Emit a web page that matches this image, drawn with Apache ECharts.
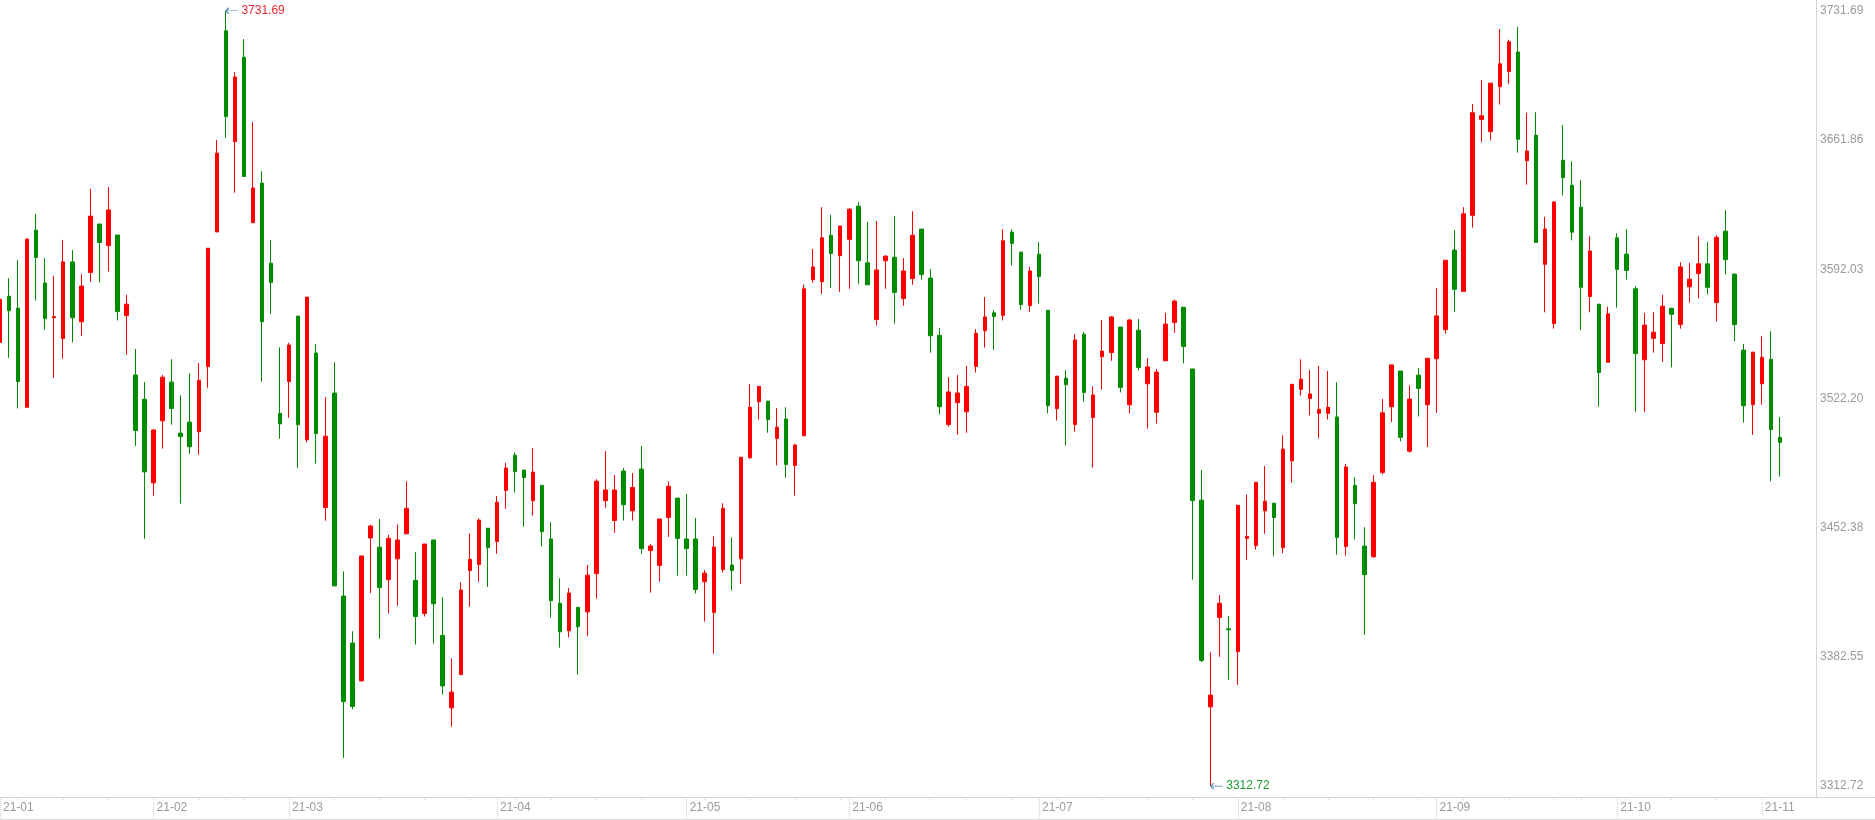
<!DOCTYPE html>
<html>
<head>
<meta charset="utf-8">
<title>K线</title>
<style>
html, body { margin: 0; padding: 0; background: #fff; }
#main { width: 1875px; height: 819px; border-bottom: 1px solid #dcdcdc; }
</style>
<script src="https://cdn.jsdelivr.net/npm/echarts@6/dist/echarts.min.js"></script>
</head>
<body>
<div id="main"></div>
<script>
var year = '2021';
var dates = [
  '01-07','01-08','01-11','01-12','01-13','01-14','01-15','01-18','01-19','01-20','01-21','01-22','01-25','01-26','01-27','01-28','01-29',
  '02-01','02-02','02-03','02-04','02-05','02-08','02-09','02-10','02-18','02-19','02-22','02-23','02-24','02-25','02-26',
  '03-01','03-02','03-03','03-04','03-05','03-08','03-09','03-10','03-11','03-12','03-15','03-16','03-17','03-18','03-19','03-22','03-23','03-24','03-25','03-26','03-29','03-30','03-31',
  '04-01','04-02','04-06','04-07','04-08','04-09','04-12','04-13','04-14','04-15','04-16','04-19','04-20','04-21','04-22','04-23','04-26','04-27','04-28','04-29','04-30',
  '05-06','05-07','05-10','05-11','05-12','05-13','05-14','05-17','05-18','05-19','05-20','05-21','05-24','05-25','05-26','05-27','05-28','05-31',
  '06-01','06-02','06-03','06-04','06-07','06-08','06-09','06-10','06-11','06-15','06-16','06-17','06-18','06-21','06-22','06-23','06-24','06-25','06-28','06-29','06-30',
  '07-01','07-02','07-05','07-06','07-07','07-08','07-09','07-12','07-13','07-14','07-15','07-16','07-19','07-20','07-21','07-22','07-23','07-26','07-27','07-28','07-29','07-30',
  '08-02','08-03','08-04','08-05','08-06','08-09','08-10','08-11','08-12','08-13','08-16','08-17','08-18','08-19','08-20','08-23','08-24','08-25','08-26','08-27','08-30','08-31',
  '09-01','09-02','09-03','09-06','09-07','09-08','09-09','09-10','09-13','09-14','09-15','09-16','09-17','09-22','09-23','09-24','09-27','09-28','09-29','09-30',
  '10-08','10-11','10-12','10-13','10-14','10-15','10-18','10-19','10-20','10-21','10-22','10-25','10-26','10-27','10-28','10-29',
  '11-01','11-02','11-03'
];
// empty slots after the last day
var emptySlots = 4;

var openData = [
  3552.44, 3577.42, 3571.00, 3517.47, 3613.11, 3584.56, 3565.80, 3554.58, 3595.98, 3563.63,
  3590.27, 3616.44, 3604.78, 3610.49, 3566.96, 3534.84, 3521.75, 3476.55, 3510.10, 3531.03,
  3503.44, 3509.38, 3504.15, 3539.36, 3612.16, 3720.88, 3660.93, 3706.60, 3617.15, 3638.56,
  3595.27, 3514.14, 3531.27, 3566.72, 3499.87, 3546.73, 3463.23, 3525.09, 3415.41, 3389.96,
  3369.50, 3446.82, 3441.82, 3424.22, 3435.51, 3449.02, 3423.92, 3405.99, 3445.71, 3394.13,
  3354.97, 3372.90, 3429.16, 3432.47, 3452.06, 3444.88, 3472.47, 3491.50, 3483.50, 3466.95,
  3475.22, 3446.26, 3411.51, 3396.62, 3409.30, 3406.82, 3427.51, 3466.95, 3456.19, 3482.95,
  3461.43, 3484.05, 3439.92, 3431.92, 3457.85, 3468.33, 3446.26, 3446.26, 3423.10, 3406.55,
  3429.71, 3432.20, 3435.51, 3490.12, 3520.46, 3520.74, 3500.60, 3511.08, 3485.98, 3501.98,
  3586.38, 3585.28, 3610.38, 3599.34, 3608.17, 3626.10, 3595.48, 3564.87, 3596.59, 3598.52,
  3576.18, 3586.93, 3613.69, 3587.21, 3556.32, 3508.05, 3519.91, 3514.94, 3539.49, 3558.80,
  3568.45, 3567.07, 3612.03, 3601.27, 3572.31, 3600.17, 3569.83, 3516.60, 3533.15, 3508.05,
  3556.87, 3511.91, 3544.73, 3546.94, 3560.73, 3518.80, 3559.07, 3530.11, 3514.67, 3542.53,
  3563.21, 3571.49, 3538.11, 3467.23, 3355.52, 3403.79, 3397.72, 3385.31, 3446.54, 3442.68,
  3461.43, 3465.57, 3441.57, 3488.46, 3527.08, 3522.11, 3514.12, 3514.12, 3512.18, 3442.13,
  3475.22, 3442.40, 3436.61, 3482.12, 3517.70, 3537.01, 3493.71, 3534.80, 3518.80, 3543.63,
  3559.35, 3602.38, 3580.04, 3621.13, 3672.99, 3666.37, 3690.64, 3698.92, 3709.40, 3650.65,
  3664.44, 3594.66, 3562.66, 3650.92, 3637.41, 3625.55, 3577.28, 3573.14, 3541.70, 3609.00,
  3600.17, 3581.42, 3543.08, 3554.66, 3551.90, 3570.93, 3562.11, 3582.52, 3589.69, 3594.93,
  3573.97, 3612.58, 3589.41, 3548.32, 3518.80, 3530.11, 3543.35, 3501.15
];
var closeData = [
  3575.76, 3569.57, 3531.27, 3608.35, 3598.36, 3565.29, 3566.40, 3595.98, 3565.77, 3582.89,
  3620.72, 3606.45, 3624.05, 3569.10, 3573.14, 3504.86, 3482.50, 3505.10, 3533.65, 3516.76,
  3501.53, 3496.06, 3531.98, 3603.35, 3654.74, 3674.49, 3695.90, 3642.13, 3635.95, 3563.63,
  3584.80, 3508.43, 3551.02, 3507.96, 3576.95, 3503.20, 3501.77, 3420.89, 3358.32, 3355.70,
  3437.06, 3453.24, 3419.93, 3446.58, 3445.71, 3462.81, 3404.34, 3443.51, 3411.24, 3366.83,
  3363.52, 3418.68, 3435.23, 3456.47, 3441.57, 3466.12, 3484.60, 3482.67, 3479.36, 3482.40,
  3450.13, 3412.89, 3396.06, 3417.03, 3398.82, 3426.68, 3477.43, 3472.74, 3472.74, 3464.74,
  3474.12, 3441.02, 3442.40, 3457.02, 3474.67, 3446.54, 3441.02, 3418.96, 3427.78, 3441.85,
  3462.81, 3429.16, 3490.40, 3517.43, 3528.73, 3510.81, 3506.67, 3486.53, 3497.01, 3581.42,
  3593.28, 3609.00, 3600.45, 3615.34, 3624.44, 3596.59, 3583.62, 3591.62, 3599.07, 3579.48,
  3591.07, 3610.38, 3589.14, 3556.04, 3517.70, 3525.70, 3525.15, 3528.73, 3557.42, 3566.25,
  3566.52, 3607.34, 3605.96, 3572.87, 3591.07, 3588.03, 3518.25, 3534.25, 3529.56, 3553.83,
  3525.42, 3524.05, 3547.77, 3566.25, 3528.18, 3564.59, 3538.94, 3539.22, 3536.46, 3562.38,
  3574.80, 3550.25, 3466.95, 3380.62, 3361.86, 3411.51, 3397.17, 3464.47, 3447.64, 3476.88,
  3466.67, 3457.85, 3494.81, 3529.84, 3532.60, 3524.60, 3516.32, 3517.43, 3447.09, 3485.15,
  3465.30, 3426.96, 3476.88, 3514.39, 3540.32, 3501.15, 3521.84, 3527.63, 3543.90, 3566.80,
  3596.86, 3581.14, 3621.96, 3676.57, 3674.92, 3692.57, 3703.05, 3714.91, 3662.23, 3655.89,
  3606.52, 3613.69, 3628.31, 3641.54, 3612.03, 3582.24, 3601.83, 3536.18, 3567.90, 3591.90,
  3591.35, 3546.39, 3561.83, 3557.97, 3572.04, 3567.62, 3593.28, 3586.66, 3594.93, 3582.24,
  3609.27, 3597.14, 3562.11, 3518.25, 3547.21, 3544.46, 3505.29, 3498.39
];
var lowData = [
  3526.27, 3544.12, 3516.76, 3517.00, 3575.04, 3559.34, 3533.41, 3543.64, 3552.44, 3556.01,
  3585.27, 3584.80, 3590.75, 3564.34, 3545.78, 3496.54, 3446.34, 3469.65, 3495.11, 3507.96,
  3465.37, 3492.26, 3491.78, 3527.94, 3612.16, 3663.07, 3633.33, 3642.13, 3617.15, 3531.27,
  3567.91, 3500.35, 3511.76, 3484.64, 3498.44, 3487.02, 3456.09, 3420.89, 3327.87, 3354.27,
  3369.50, 3417.08, 3392.34, 3405.90, 3410.13, 3449.02, 3389.17, 3404.34, 3389.72, 3362.14,
  3344.76, 3372.90, 3409.58, 3423.10, 3420.34, 3438.27, 3462.54, 3471.36, 3452.88, 3458.95,
  3442.13, 3403.79, 3387.51, 3393.03, 3372.90, 3393.86, 3413.99, 3463.09, 3449.57, 3456.19,
  3456.19, 3438.27, 3417.30, 3423.10, 3447.37, 3426.40, 3426.40, 3416.75, 3401.58, 3384.20,
  3428.06, 3418.41, 3421.99, 3489.57, 3510.81, 3503.64, 3485.98, 3479.36, 3469.71, 3501.98,
  3584.73, 3578.66, 3581.97, 3579.76, 3581.42, 3583.90, 3583.62, 3561.56, 3581.42, 3562.66,
  3572.31, 3583.62, 3586.38, 3546.94, 3513.56, 3506.94, 3502.53, 3503.64, 3536.18, 3549.70,
  3548.32, 3564.32, 3594.10, 3570.11, 3569.00, 3573.42, 3514.12, 3510.25, 3496.74, 3504.19,
  3520.46, 3484.88, 3527.08, 3542.53, 3525.42, 3514.12, 3537.28, 3505.84, 3508.60, 3542.53,
  3557.70, 3541.15, 3424.20, 3379.79, 3312.72, 3382.55, 3370.14, 3367.38, 3434.96, 3440.47,
  3449.02, 3436.89, 3438.54, 3476.60, 3523.77, 3513.01, 3500.60, 3510.81, 3437.71, 3437.16,
  3445.99, 3394.41, 3436.06, 3481.02, 3509.43, 3498.95, 3492.88, 3512.46, 3495.91, 3514.39,
  3557.14, 3569.00, 3580.04, 3614.51, 3660.58, 3661.68, 3680.99, 3692.30, 3655.06, 3637.68,
  3606.52, 3568.73, 3559.90, 3631.89, 3607.62, 3559.07, 3568.73, 3517.70, 3541.70, 3571.21,
  3586.38, 3514.94, 3514.94, 3546.94, 3541.97, 3538.94, 3559.90, 3573.97, 3576.18, 3578.38,
  3563.76, 3589.14, 3553.01, 3509.15, 3502.53, 3518.80, 3477.43, 3479.91
];
var highData = [
  3575.76, 3587.18, 3596.93, 3608.35, 3621.91, 3598.12, 3588.37, 3607.87, 3602.40, 3589.32,
  3635.47, 3616.44, 3636.42, 3610.49, 3578.14, 3548.88, 3531.03, 3505.58, 3534.84, 3543.40,
  3523.90, 3535.79, 3541.26, 3603.35, 3661.88, 3731.69, 3698.51, 3716.36, 3671.63, 3644.99,
  3607.87, 3549.83, 3552.21, 3566.72, 3576.95, 3551.49, 3522.94, 3541.74, 3428.74, 3396.38,
  3437.06, 3453.95, 3457.05, 3448.48, 3453.99, 3477.43, 3439.09, 3443.51, 3445.71, 3414.82,
  3381.72, 3422.82, 3449.30, 3457.30, 3452.06, 3469.43, 3487.36, 3492.88, 3483.50, 3495.36,
  3475.22, 3455.37, 3425.03, 3419.79, 3409.30, 3432.20, 3478.53, 3493.71, 3480.74, 3484.60,
  3481.84, 3496.46, 3443.51, 3457.02, 3477.43, 3468.33, 3470.54, 3457.57, 3429.44, 3447.64,
  3465.57, 3447.09, 3490.40, 3529.84, 3528.73, 3520.74, 3516.87, 3517.43, 3497.57, 3583.62,
  3602.93, 3625.55, 3621.41, 3615.34, 3625.00, 3628.31, 3617.55, 3618.10, 3599.62, 3620.86,
  3597.97, 3623.34, 3613.69, 3592.17, 3560.18, 3533.70, 3534.80, 3539.77, 3559.63, 3577.00,
  3569.83, 3613.69, 3613.69, 3601.27, 3593.28, 3606.79, 3569.83, 3534.25, 3537.56, 3556.87,
  3557.97, 3528.73, 3564.59, 3566.80, 3560.73, 3565.14, 3565.14, 3543.90, 3538.11, 3568.45,
  3575.62, 3571.49, 3538.11, 3483.50, 3385.03, 3415.92, 3404.62, 3464.47, 3470.26, 3476.88,
  3485.71, 3465.57, 3502.26, 3529.84, 3543.35, 3537.56, 3539.77, 3537.01, 3530.94, 3486.81,
  3479.64, 3452.61, 3480.74, 3521.84, 3540.32, 3537.01, 3529.29, 3538.66, 3543.90, 3581.97,
  3596.86, 3613.14, 3625.55, 3681.26, 3694.23, 3692.57, 3721.81, 3716.02, 3722.91, 3676.57,
  3676.85, 3620.31, 3628.86, 3669.95, 3650.37, 3640.17, 3609.83, 3573.14, 3571.76, 3611.48,
  3613.69, 3582.79, 3568.45, 3568.73, 3578.11, 3570.93, 3595.76, 3595.48, 3609.83, 3606.79,
  3610.38, 3623.89, 3589.41, 3551.63, 3547.21, 3555.76, 3558.52, 3512.18
];
var yTicks = [3312.72, 3382.55, 3452.38, 3522.20, 3592.03, 3661.86, 3731.69];

var upColor = '#ff0000';
var downColor = '#008c00';
var gridLine = '#cfcfcf';
var labelColor = '#9a9a9a';
var fontFamily = '"Liberation Sans", Arial, sans-serif';

var categories = dates.map(function (d) { return year + '-' + d; });
for (var k = 0; k < emptySlots; k++) categories.push('');

var kData = openData.map(function (o, i) {
  return [o, closeData[i], lowData[i], highData[i]];
});

function isMonthStart(i) {
  var d = categories[i];
  if (!d) return false;
  return i === 0 || d.slice(0, 7) !== categories[i - 1].slice(0, 7);
}
function isWeekStart(i) {
  var d = categories[i];
  if (!d || i === 0) return false;
  var a = new Date(categories[i - 1] + 'T00:00:00Z');
  var b = new Date(d + 'T00:00:00Z');
  return b.getUTCDay() <= a.getUTCDay() || (b - a) >= 7 * 864e5;
}

var chartDom = document.getElementById('main');
var myChart = echarts.init(chartDom);
var option;
option = {
  animation: false,
  grid: [
    { left: 0, right: 59, top: 0, bottom: 22 },
    { left: 0, right: 0, top: 0, bottom: 22 }
  ],
  xAxis: [
    {
      type: 'category',
      position: 'bottom',
      gridIndex: 0,
      data: categories,
      boundaryGap: false,
      axisLine: { show: false },
      axisTick: {
        interval: function (i) { return isMonthStart(i); },
        length: 22,
        lineStyle: { color: gridLine, type: 'dotted' }
      },
      axisLabel: {
        interval: function (i) { return isMonthStart(i); },
        formatter: function (v) { return v ? v.slice(2, 7) : ''; },
        align: 'left',
        margin: 5,
        padding: [0, 0, 0, 3],
        color: labelColor,
        fontSize: 12,
        fontFamily: fontFamily
      },
      splitLine: { show: false }
    },
    {
      type: 'category',
      position: 'bottom',
      gridIndex: 0,
      data: categories,
      boundaryGap: false,
      axisLine: { show: false },
      axisTick: {
        interval: function (i) { return isWeekStart(i); },
        length: 4,
        lineStyle: { color: gridLine, type: 'dotted' }
      },
      axisLabel: { show: false },
      splitLine: { show: false }
    },
    {
      type: 'value',
      gridIndex: 1,
      min: 0,
      max: 1,
      axisLine: { show: true, onZero: false, lineStyle: { color: gridLine, type: 'dotted' } },
      axisTick: { show: false },
      axisLabel: { show: false },
      splitLine: { show: false }
    }
  ],
  yAxis: [
    {
      type: 'value',
      position: 'right',
      gridIndex: 0,
      min: 3306.8,
      max: 3737.5,
      axisLine: { show: true, lineStyle: { color: gridLine, type: 'dotted' } },
      axisTick: {
        show: true,
        length: 3,
        customValues: yTicks,
        lineStyle: { color: gridLine, type: 'dotted' }
      },
      axisLabel: {
        customValues: yTicks,
        formatter: function (v) { return v.toFixed(2); },
        margin: 4,
        color: labelColor,
        fontSize: 12,
        fontFamily: fontFamily
      },
      splitLine: { show: false }
    },
    { type: 'value', gridIndex: 1, min: 0, max: 1, show: false }
  ],
  series: [
    {
      type: 'candlestick',
      xAxisIndex: 0,
      yAxisIndex: 0,
      data: kData,
      barWidth: 4,
      itemStyle: {
        color: upColor,
        color0: downColor,
        borderColor: upColor,
        borderColor0: downColor,
        borderWidth: 1
      },
      markPoint: {
        symbol: 'path://M0,3 L3,0 M0,3 L3,6 M0,3 L12,3',
        symbolSize: [12, 6],
        symbolKeepAspect: false,
        symbolOffset: [6, 0],
        itemStyle: { color: 'none', borderColor: '#4a7fb5', borderWidth: 1 },
        label: {
          show: true,
          position: 'right',
          distance: 0,
          fontSize: 12,
          fontFamily: fontFamily,
          formatter: function (p) { return Number(p.value).toFixed(2); }
        },
        data: [
          { type: 'max', valueDim: 'highest', label: { color: '#e8262f' } },
          { type: 'min', valueDim: 'lowest', label: { color: '#1e9a30' } }
        ]
      }
    }
  ]
};
option && myChart.setOption(option);
</script>
</body>
</html>
